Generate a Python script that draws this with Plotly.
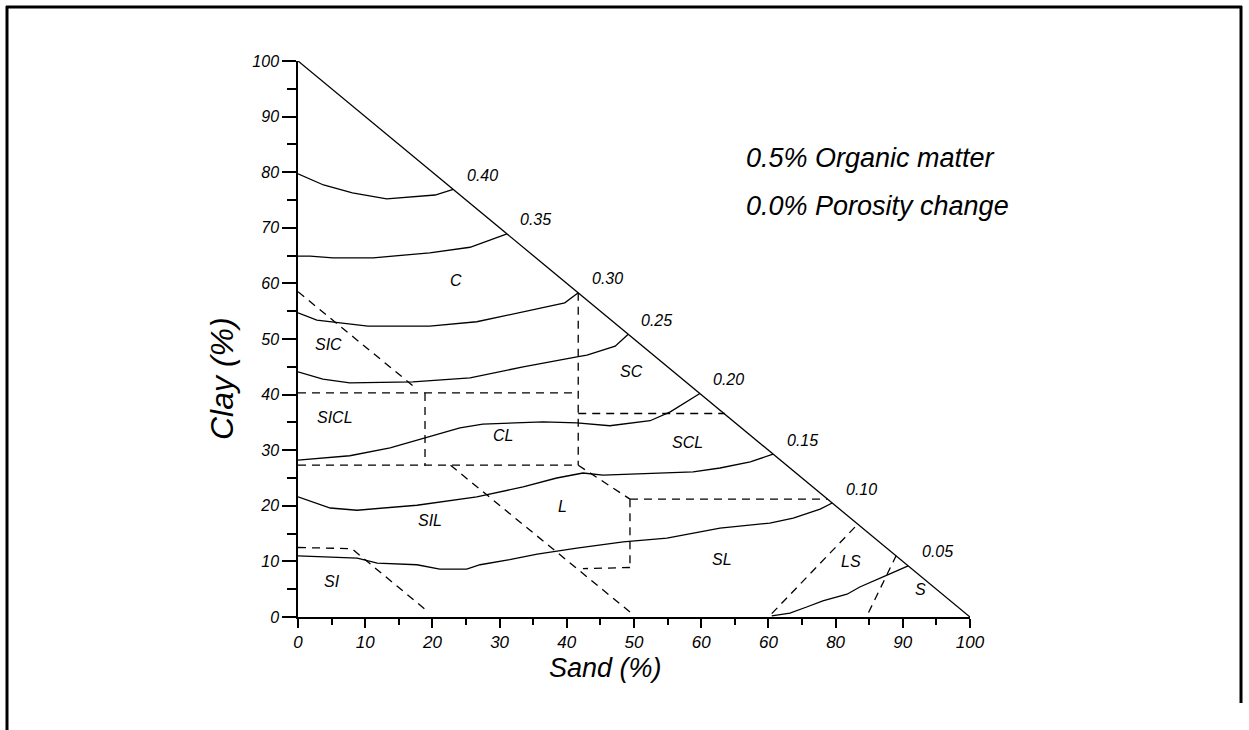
import plotly.graph_objects as go

# ---------------- data ----------------
contour_labels = ["0.40", "0.35", "0.30", "0.25", "0.20", "0.15", "0.10", "0.05"]

c040_sand = [0, 3.8, 8.1, 13.2, 20.4, 23.1]
c040_clay = [79.7, 77.7, 76.3, 75.2, 75.9, 76.9]
c035_sand = [0, 1.8, 5.2, 11.2, 19.6, 25.6, 31.1]
c035_clay = [64.9, 64.9, 64.6, 64.6, 65.5, 66.5, 68.9]
c030_sand = [0, 2.8, 10.4, 19.6, 26.6, 33.5, 39.7, 41.7]
c030_clay = [54.7, 53.4, 52.3, 52.3, 53.1, 54.9, 56.5, 58.3]
c025_sand = [0, 3.7, 7.7, 17.1, 25.6, 33.5, 41.5, 43.0, 47.2, 49.1]
c025_clay = [44.1, 42.8, 42.1, 42.3, 43.0, 45.0, 46.8, 47.1, 48.7, 50.8]
c020_sand = [0, 7.7, 13.7, 19.6, 24.1, 27.5, 36.5, 41.5, 46.4, 52.4, 55.4, 59.8]
c020_clay = [28.2, 29.0, 30.4, 32.4, 34.0, 34.7, 35.1, 34.9, 34.4, 35.3, 36.9, 40.2]
c015_sand = [0, 4.8, 8.8, 17.7, 26.6, 33.5, 38.5, 42.4, 45.4, 53.9, 58.8, 62.8, 67.3, 70.7]
c015_clay = [21.6, 19.6, 19.2, 20.1, 21.6, 23.4, 25.0, 25.9, 25.5, 25.9, 26.1, 26.8, 27.9, 29.3]
c010_sand = [0, 8.8, 11.8, 17.7, 21.1, 25.1, 27.1, 31.5, 35.6, 41.5, 48.4, 54.9, 62.8, 70.2, 73.7, 77.7, 79.5]
c010_clay = [11.0, 10.6, 9.7, 9.4, 8.6, 8.6, 9.4, 10.3, 11.3, 12.4, 13.5, 14.2, 16.0, 16.9, 17.8, 19.4, 20.5]
c005_sand = [70.5, 73.2, 75.7, 78.1, 81.7, 83.6, 87.4, 90.8]
c005_clay = [0.2, 0.7, 1.8, 2.9, 4.1, 5.4, 7.4, 9.2]

contour_sand = [c040_sand, c035_sand, c030_sand, c025_sand, c020_sand, c015_sand, c010_sand, c005_sand]
contour_clay = [c040_clay, c035_clay, c030_clay, c025_clay, c020_clay, c015_clay, c010_clay, c005_clay]

# texture class boundaries (dashed), each a polyline
boundary_sand = [
    [0, 17.7],
    [0, 41.7],
    [41.7, 41.7],
    [0, 41.7],
    [18.9, 18.9],
    [41.7, 63.5],
    [22.7, 49.4],
    [41.7, 49.4],
    [49.4, 78.8],
    [49.4, 49.4],
    [49.4, 42.4],
    [0, 8.0, 19.5],
    [70.5, 83.3],
    [84.9, 89.0],
]
boundary_clay = [
    [58.5, 41.0],
    [40.3, 40.3],
    [58.3, 27.3],
    [27.3, 27.3],
    [40.3, 27.3],
    [36.6, 36.6],
    [27.3, 0.9],
    [27.3, 21.2],
    [21.2, 21.2],
    [21.2, 8.9],
    [8.9, 8.7],
    [12.5, 12.3, 0.8],
    [0.6, 16.7],
    [0.8, 11.0],
]

# texture class labels
class_names = ["C", "SIC", "SC", "SICL", "CL", "SCL", "SIL", "L", "SI", "SL", "LS", "S"]
class_sand = [23.5, 4.5, 49.6, 5.5, 30.5, 57.9, 19.6, 39.4, 5.1, 63.1, 82.3, 92.6]
class_clay = [60.6, 49.1, 44.1, 35.8, 32.7, 31.3, 17.4, 19.8, 6.3, 10.4, 9.9, 5.0]

x_tickvals = [0, 10, 20, 30, 40, 50, 60, 70, 80, 90, 100]
x_ticktext = ["0", "10", "20", "30", "40", "50", "60", "60", "80", "90", "100"]
y_tickvals = [0, 10, 20, 30, 40, 50, 60, 70, 80, 90, 100]
y_ticktext = ["0", "10", "20", "30", "40", "50", "60", "70", "80", "90", "100"]
minor_vals = [5, 15, 25, 35, 45, 55, 65, 75, 85, 95]

# ---------------- figure ----------------
W, H = 1249, 730
L, R, T, B = 298, 970, 61, 617  # plot area pixel box

FONT = "Liberation Sans, Arial, sans-serif"

fig = go.Figure()

# hypotenuse
fig.add_trace(go.Scatter(x=[0, 100], y=[100, 0], mode="lines",
                         line=dict(color="black", width=1.3), hoverinfo="skip"))

# contours
for xs, ys in zip(contour_sand, contour_clay):
    fig.add_trace(go.Scatter(x=xs, y=ys, mode="lines",
                             line=dict(color="black", width=1.3), hoverinfo="skip"))

# dashed boundaries
bx, by = [], []
for xs, ys in zip(boundary_sand, boundary_clay):
    bx += xs + [None]
    by += ys + [None]
fig.add_trace(go.Scatter(x=bx, y=by, mode="lines",
                         line=dict(color="black", width=1.3, dash="8px,6px"),
                         hoverinfo="skip"))

annotations = []
# contour labels at end of each contour
for lab, xs, ys in zip(contour_labels, contour_sand, contour_clay):
    annotations.append(dict(x=xs[-1], y=ys[-1], xref="x", yref="y", text=lab,
                            showarrow=False, xshift=29, yshift=14,
                            xanchor="center", yanchor="middle",
                            font=dict(family=FONT, size=16, style="italic", color="black")))
# class labels
for name, sx, cy in zip(class_names, class_sand, class_clay):
    annotations.append(dict(x=sx, y=cy, xref="x", yref="y", text=name, showarrow=False,
                            xanchor="center", yanchor="middle",
                            font=dict(family=FONT, size=16, style="italic", color="black")))


def px(xp):
    return (xp - L) / (R - L)


def py(yp):
    return (B - yp) / (B - T)


annotations += [
    dict(x=px(222), y=py(379), xref="paper", yref="paper", text="Clay (%)", textangle=-90,
         xanchor="center", yanchor="middle",
         showarrow=False, font=dict(family=FONT, size=32, style="italic", color="black")),
    dict(x=px(605), y=py(668), xref="paper", yref="paper", text="Sand (%)",
         xanchor="center", yanchor="middle",
         showarrow=False, font=dict(family=FONT, size=27, style="italic", color="black")),
    dict(x=px(744), y=py(158), xref="paper", yref="paper", text="0.5% Organic matter",
         xanchor="left", yanchor="middle", showarrow=False,
         font=dict(family=FONT, size=27, style="italic", color="black")),
    dict(x=px(744), y=py(206), xref="paper", yref="paper", text="0.0% Porosity change",
         xanchor="left", yanchor="middle", showarrow=False,
         font=dict(family=FONT, size=27, style="italic", color="black")),
]

shapes = [
    dict(type="line", xref="paper", yref="paper", x0=px(7), x1=px(7), y0=py(6), y1=py(735),
         line=dict(color="black", width=3)),
    dict(type="line", xref="paper", yref="paper", x0=px(6), x1=px(1242), y0=py(7), y1=py(7),
         line=dict(color="black", width=3)),
    dict(type="line", xref="paper", yref="paper", x0=px(1241), x1=px(1241), y0=py(6), y1=py(703),
         line=dict(color="black", width=3)),
]

fig.update_layout(
    width=W, height=H,
    margin=dict(l=L, r=W - R, t=T, b=H - B, pad=0),
    paper_bgcolor="white", plot_bgcolor="white",
    showlegend=False,
    annotations=annotations,
    shapes=shapes,
    xaxis=dict(range=[0, 100], showgrid=False, zeroline=False,
               showline=True, linecolor="black", linewidth=1.5,
               ticks="outside", ticklen=9, tickwidth=1.5, tickcolor="black",
               tickmode="array", tickvals=x_tickvals, ticktext=x_ticktext,
               tickfont=dict(family=FONT, size=17, style="italic", color="black"),
               minor=dict(tickmode="array", tickvals=minor_vals, ticks="outside",
                          ticklen=6, tickwidth=1.5, tickcolor="black", showgrid=False)),
    yaxis=dict(range=[0, 100], showgrid=False, zeroline=False,
               showline=True, linecolor="black", linewidth=1.5,
               ticks="outside", ticklen=14, tickwidth=1.5, tickcolor="black",
               tickmode="array", tickvals=y_tickvals, ticktext=y_ticktext,
               tickfont=dict(family=FONT, size=16, style="italic", color="black"),
               minor=dict(tickmode="array", tickvals=minor_vals, ticks="outside",
                          ticklen=9, tickwidth=1.5, tickcolor="black", showgrid=False)),
)

fig.write_html("out.html")
